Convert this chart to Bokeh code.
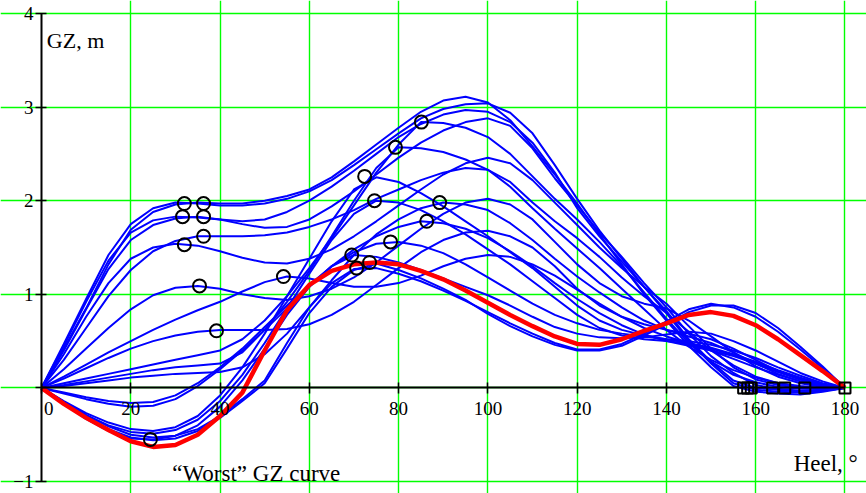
from bokeh.plotting import figure
from bokeh.models import Range1d, FixedTicker, Label
from bokeh.embed import file_html
from bokeh.resources import INLINE

heel = list(range(0, 181, 5))

gz_b1 = [0.00, 0.42, 0.85, 1.32, 1.69, 1.88, 1.96, 1.98, 1.97, 1.97, 2.00, 2.05, 2.12, 2.25, 2.42, 2.60, 2.78, 2.95, 3.07, 3.11, 3.05, 2.86, 2.58, 2.28, 1.97, 1.64, 1.32, 1.00, 0.72, 0.45, 0.22, 0.02, -0.04, -0.06, -0.07, -0.04, 0.00]
gz_b2 = [0.00, 0.47, 0.95, 1.42, 1.75, 1.92, 1.98, 1.97, 1.95, 1.95, 1.97, 2.02, 2.10, 2.22, 2.38, 2.55, 2.72, 2.88, 2.98, 3.03, 3.04, 2.94, 2.72, 2.38, 2.02, 1.68, 1.38, 1.08, 0.80, 0.50, 0.26, 0.05, -0.02, -0.04, -0.05, -0.03, 0.00]
gz_b3 = [0.00, 0.45, 0.92, 1.36, 1.66, 1.79, 1.83, 1.82, 1.80, 1.78, 1.80, 1.88, 2.00, 2.15, 2.32, 2.50, 2.68, 2.82, 2.92, 2.97, 2.95, 2.84, 2.62, 2.30, 1.92, 1.62, 1.35, 1.08, 0.82, 0.52, 0.28, 0.08, 0.00, -0.02, -0.04, -0.03, 0.00]
gz_b4 = [0.00, 0.40, 0.84, 1.27, 1.58, 1.74, 1.81, 1.83, 1.80, 1.75, 1.71, 1.72, 1.80, 1.94, 2.10, 2.28, 2.46, 2.62, 2.75, 2.84, 2.88, 2.80, 2.56, 2.24, 1.95, 1.66, 1.40, 1.12, 0.86, 0.58, 0.34, 0.16, 0.03, -0.01, -0.03, -0.02, 0.00]
gz_m1 = [0.00, 0.05, 0.10, 0.15, 0.20, 0.25, 0.30, 0.35, 0.40, 0.52, 0.72, 0.98, 1.28, 1.60, 1.95, 2.30, 2.60, 2.84, 2.83, 2.78, 2.68, 2.50, 2.26, 2.02, 1.80, 1.56, 1.30, 1.02, 0.74, 0.48, 0.28, 0.14, 0.06, 0.01, -0.01, -0.01, 0.00]
gz_b5 = [0.00, 0.36, 0.76, 1.12, 1.38, 1.50, 1.54, 1.52, 1.46, 1.39, 1.34, 1.33, 1.38, 1.48, 1.62, 1.78, 1.95, 2.12, 2.28, 2.40, 2.46, 2.40, 2.22, 1.98, 1.74, 1.50, 1.28, 1.08, 0.90, 0.66, 0.42, 0.22, 0.09, 0.03, 0.00, -0.01, 0.00]
gz_b6 = [0.00, 0.30, 0.64, 0.98, 1.26, 1.46, 1.57, 1.62, 1.62, 1.62, 1.63, 1.66, 1.72, 1.80, 1.90, 2.02, 2.12, 2.22, 2.30, 2.35, 2.33, 2.20, 1.98, 1.78, 1.60, 1.40, 1.18, 0.98, 0.80, 0.60, 0.40, 0.24, 0.12, 0.05, 0.01, 0.00, 0.00]
gz_m2 = [0.00, 0.03, 0.07, 0.11, 0.15, 0.19, 0.22, 0.24, 0.26, 0.38, 0.62, 0.92, 1.25, 1.62, 2.00, 2.35, 2.57, 2.56, 2.52, 2.44, 2.33, 2.15, 1.92, 1.70, 1.49, 1.28, 1.06, 0.84, 0.62, 0.44, 0.30, 0.19, 0.11, 0.05, 0.02, 0.00, 0.00]
gz_b7 = [0.00, 0.20, 0.42, 0.64, 0.84, 0.99, 1.07, 1.09, 1.06, 1.00, 0.96, 0.94, 0.98, 1.06, 1.18, 1.34, 1.52, 1.70, 1.86, 1.98, 2.02, 1.96, 1.80, 1.56, 1.32, 1.12, 0.98, 0.90, 0.85, 0.72, 0.55, 0.38, 0.23, 0.12, 0.05, 0.01, 0.00]
gz_m6 = [0.00, 0.02, 0.05, 0.08, 0.11, 0.13, 0.15, 0.16, 0.17, 0.22, 0.36, 0.58, 0.86, 1.15, 1.42, 1.64, 1.80, 1.92, 1.98, 1.96, 1.90, 1.76, 1.58, 1.38, 1.19, 1.02, 0.86, 0.72, 0.62, 0.55, 0.48, 0.38, 0.26, 0.15, 0.07, 0.02, 0.00]
gz_b8 = [0.00, 0.10, 0.21, 0.32, 0.42, 0.50, 0.56, 0.60, 0.62, 0.62, 0.62, 0.63, 0.68, 0.78, 0.92, 1.10, 1.28, 1.45, 1.58, 1.66, 1.68, 1.62, 1.50, 1.30, 1.06, 0.88, 0.76, 0.68, 0.62, 0.58, 0.52, 0.42, 0.30, 0.18, 0.09, 0.03, 0.00]
gz_b9 = [0.00, 0.12, 0.25, 0.38, 0.50, 0.62, 0.73, 0.83, 0.92, 1.03, 1.13, 1.19, 1.17, 1.12, 1.08, 1.08, 1.12, 1.20, 1.30, 1.38, 1.42, 1.40, 1.32, 1.20, 1.05, 0.90, 0.76, 0.64, 0.55, 0.48, 0.40, 0.31, 0.22, 0.14, 0.07, 0.02, 0.00]
gz_m5 = [0.00, -0.06, -0.12, -0.17, -0.20, -0.19, -0.12, 0.02, 0.20, 0.40, 0.62, 0.85, 1.08, 1.30, 1.48, 1.62, 1.72, 1.78, 1.76, 1.70, 1.60, 1.46, 1.30, 1.12, 0.95, 0.80, 0.67, 0.57, 0.50, 0.45, 0.40, 0.34, 0.26, 0.17, 0.09, 0.03, 0.00]
gz_n4 = [0.00, -0.05, -0.10, -0.14, -0.16, -0.15, -0.08, 0.05, 0.22, 0.42, 0.65, 0.88, 1.10, 1.30, 1.45, 1.54, 1.56, 1.52, 1.44, 1.32, 1.18, 1.04, 0.90, 0.78, 0.69, 0.62, 0.58, 0.55, 0.52, 0.50, 0.46, 0.40, 0.32, 0.22, 0.13, 0.05, 0.00]
gz_m3 = [0.00, -0.14, -0.27, -0.37, -0.44, -0.46, -0.42, -0.30, -0.08, 0.22, 0.58, 0.98, 1.38, 1.78, 2.12, 2.25, 2.20, 2.08, 1.94, 1.78, 1.62, 1.45, 1.28, 1.08, 0.88, 0.72, 0.62, 0.56, 0.52, 0.48, 0.43, 0.36, 0.28, 0.19, 0.11, 0.04, 0.00]
gz_m4 = [0.00, -0.15, -0.29, -0.40, -0.47, -0.49, -0.45, -0.34, -0.14, 0.14, 0.48, 0.85, 1.22, 1.58, 1.86, 2.00, 1.98, 1.90, 1.78, 1.64, 1.48, 1.32, 1.14, 0.96, 0.78, 0.64, 0.56, 0.52, 0.50, 0.47, 0.42, 0.35, 0.27, 0.18, 0.10, 0.04, 0.00]
gz_n3 = [0.00, -0.17, -0.33, -0.46, -0.54, -0.55, -0.51, -0.40, -0.20, 0.08, 0.42, 0.78, 1.08, 1.30, 1.42, 1.40, 1.34, 1.26, 1.17, 1.08, 0.99, 0.88, 0.76, 0.65, 0.58, 0.54, 0.53, 0.54, 0.57, 0.60, 0.58, 0.50, 0.40, 0.28, 0.16, 0.07, 0.00]
gz_n1 = [0.00, -0.15, -0.29, -0.41, -0.50, -0.53, -0.51, -0.44, -0.30, -0.12, 0.08, 0.48, 0.86, 1.12, 1.27, 1.28, 1.22, 1.14, 1.04, 0.93, 0.81, 0.69, 0.58, 0.48, 0.41, 0.41, 0.47, 0.58, 0.71, 0.84, 0.90, 0.86, 0.76, 0.60, 0.41, 0.21, 0.00]
gz_n2 = [0.00, -0.16, -0.31, -0.44, -0.53, -0.56, -0.54, -0.46, -0.32, -0.14, 0.05, 0.42, 0.80, 1.08, 1.26, 1.33, 1.26, 1.17, 1.06, 0.94, 0.79, 0.66, 0.55, 0.46, 0.40, 0.40, 0.45, 0.56, 0.68, 0.81, 0.88, 0.88, 0.80, 0.64, 0.44, 0.23, 0.00]

gz_worst = [0.00, -0.17, -0.32, -0.45, -0.57, -0.63, -0.61, -0.50, -0.30, -0.05, 0.40, 0.83, 1.10, 1.25, 1.32, 1.34, 1.32, 1.25, 1.16, 1.04, 0.91, 0.78, 0.66, 0.55, 0.47, 0.46, 0.52, 0.61, 0.69, 0.78, 0.81, 0.77, 0.67, 0.52, 0.35, 0.18, 0.00]

family = [gz_b1, gz_b2, gz_b3, gz_b4, gz_m1, gz_b5, gz_b6, gz_m2, gz_b7, gz_m6,
          gz_b8, gz_b9, gz_m5, gz_n4, gz_m3, gz_m4, gz_n3, gz_n1, gz_n2]

max_heel = [24.4, 31.6, 32.0, 32.0, 35.4, 36.3, 36.3, 36.3, 39.2, 54.2, 69.5, 70.6,
            72.4, 73.5, 74.6, 78.2, 79.3, 85.1, 86.3, 89.2]
max_gz = [-0.55, 1.83, 1.97, 1.53, 1.09, 1.97, 1.83, 1.62, 0.61, 1.19, 1.42, 1.28,
          2.26, 1.34, 2.00, 1.56, 2.57, 2.84, 1.78, 1.98]

vanish_heel = [157.3, 158.2, 159.0, 163.8, 166.5, 171.0, 180.0]
vanish_gz = [0, 0, 0, 0, 0, 0, 0]

x_ticks = [0, 20, 40, 60, 80, 100, 120, 140, 160, 180]
y_ticks = [-1, 0, 1, 2, 3, 4]

SERIF = "Liberation Serif"
GREEN = "#00ff00"

# frame fills the whole canvas; the axes sit at x=0 and y=0 inside it
p = figure(width=866, height=493, x_range=Range1d(-9.185, 184.82), y_range=Range1d(-1.128, 4.139),
           output_backend="svg", toolbar_location=None,
           min_border_left=0, min_border_right=0, min_border_top=0, min_border_bottom=0,
           background_fill_color="white", border_fill_color="white",
           outline_line_color=None)

p.xgrid.ticker = FixedTicker(ticks=[20, 40, 60, 80, 100, 120, 140, 160, 180])
p.ygrid.ticker = FixedTicker(ticks=y_ticks)
p.xgrid.bounds = (-1, 4)
p.ygrid.bounds = (0, 180)
p.grid.grid_line_color = GREEN
p.grid.grid_line_width = 1.4
p.grid.grid_line_alpha = 1.0

xa = p.xaxis[0]
xa.fixed_location = 0
xa.bounds = (0, 180)
xa.ticker = FixedTicker(ticks=x_ticks)
xa.major_label_overrides = {0: "\u00a0\u00a0\u00a00"}
ya = p.yaxis[0]
ya.fixed_location = 0
ya.bounds = (-1, 4)
ya.ticker = FixedTicker(ticks=y_ticks)
ya.major_label_overrides = {0: ""}
for ax in (xa, ya):
    ax.axis_line_color = "black"
    ax.axis_line_width = 2
    ax.major_tick_line_color = "black"
    ax.major_tick_line_width = 1.5
    ax.major_tick_in = 5
    ax.major_tick_out = 6
    ax.minor_tick_line_color = None
    ax.major_label_text_font = SERIF
    ax.major_label_text_font_size = "19px"
    ax.major_label_text_color = "black"
xa.major_label_standoff = 4
ya.major_label_standoff = 2

for ys in family:
    p.line(heel, ys, line_color="#0000ff", line_width=2)
p.line(heel, gz_worst, line_color="#ff0000", line_width=4.5)

p.scatter(max_heel, max_gz, marker="circle", size=13, fill_color=None,
          line_color="black", line_width=2)
p.scatter(vanish_heel, vanish_gz, marker="square", size=11, fill_color=None,
          line_color="black", line_width=2)

p.add_layout(Label(x=1.2, y=3.71, text="GZ, m", text_font=SERIF, text_font_size="22px",
                   text_color="black", text_baseline="alphabetic"))
p.add_layout(Label(x=168.5, y=-0.81, text="Heel, \u00b0", text_font=SERIF, text_font_size="23px",
                   text_color="black", text_baseline="alphabetic"))
p.add_layout(Label(x=29.3, y=-0.915, text="\u201cWorst\u201d GZ curve", text_font=SERIF,
                   text_font_size="23px", text_color="black", text_baseline="alphabetic"))

open("out.html", "w").write(file_html(p, INLINE))
